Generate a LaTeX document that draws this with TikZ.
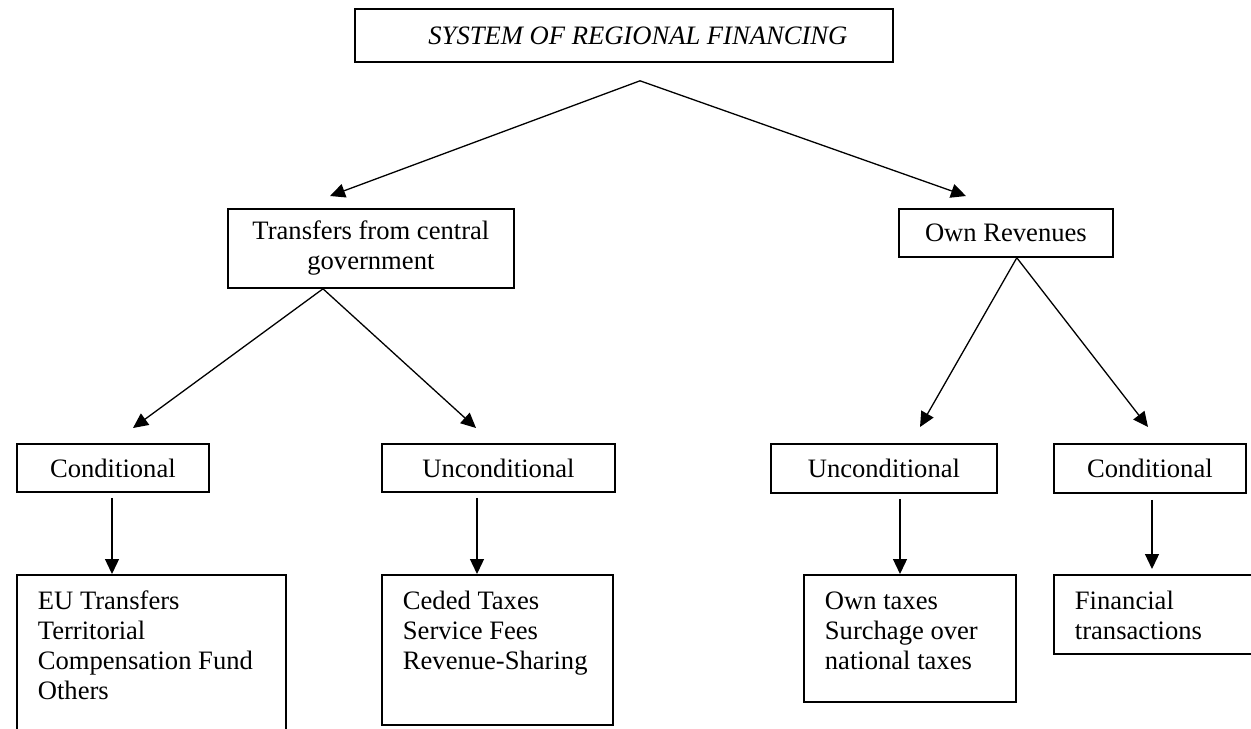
\documentclass[tikz,border=0pt]{standalone}
\usepackage{fontspec}
\setmainfont{Liberation Serif}
\usetikzlibrary{arrows.meta,positioning,calc}
\tikzset{
  box/.style={draw,line width=0.9pt,anchor=north west,inner sep=0pt,
    align=center,font=\fontsize{13.3}{15}\selectfont},
  listbox/.style={draw,line width=0.9pt,anchor=north west,inner xsep=10.5pt,
    inner ysep=7pt,font=\fontsize{13.3}{15}\selectfont},
  arrow/.style={-{Triangle[length=7.5pt,width=7pt]},line width=0.65pt}
}

\begin{document}
\begin{tikzpicture}[x=0.5pt,y=-0.5pt]
  \useasboundingbox (0,0) rectangle (1251,728);
  % top
  \node[box,minimum width=269pt,minimum height=26.5pt,
    font=\fontsize{13.3}{15}\selectfont\itshape] (title) at (354,8) {\hspace*{14pt}SYSTEM OF REGIONAL FINANCING};
  \node[box,minimum width=143pt,minimum height=39.5pt] (trans) at (227,208) {Transfers from central\\government};
  \node[box,minimum width=107pt,minimum height=24pt] (own) at (898,208) {Own Revenues};
  % second level
  \node[box,minimum width=96pt,minimum height=24pt] (condl) at (16,443) {Conditional};
  \node[box,minimum width=116.5pt,minimum height=24pt] (uncl) at (381,443) {Unconditional};
  \node[box,minimum width=113pt,minimum height=24.5pt] (uncr) at (770,443) {Unconditional};
  \node[box,minimum width=96pt,minimum height=24.5pt] (condr) at (1053,443) {Conditional};
  % lists
  \node[listbox] (eu) at (16,574) {\parbox[t][66.5pt][t]{113.5pt}{\strut EU Transfers\\Territorial\\Compensation Fund\\Others}};
  \node[listbox] (ceded) at (381,574) {\parbox[t][61pt][t]{94.5pt}{\strut Ceded Taxes\\Service Fees\\Revenue-Sharing}};
  \node[listbox] (owntax) at (803,574) {\parbox[t][49.5pt][t]{85pt}{\strut Own taxes\\Surchage over\\national taxes}};
  \node[listbox] (fin) at (1053,574) {\parbox[t][25.5pt][t]{78pt}{\strut Financial\\transactions}};
  % arrows
  \coordinate (split) at ($(title.south west)+(286,18)$);
  \draw[arrow] (split) -- ($(trans.north west)+(103,-12)$);
  \draw[arrow] (split) -- ($(own.north west)+(68,-12)$);
  \draw[arrow] ($(trans.south west)+(96,0)$) -- ($(condl.north west)+(117,-15)$);
  \draw[arrow] ($(trans.south west)+(96,0)$) -- ($(uncl.north west)+(95,-15)$);
  \draw[arrow] ($(own.south east)+(-97,0)$) -- ($(uncr.north west)+(150,-16)$);
  \draw[arrow] ($(own.south east)+(-97,0)$) -- ($(condr.north west)+(95,-16)$);
  \draw[arrow] ($(condl.south west)+(96,5)$) -- ($(eu.north west)+(96,0)$);
  \draw[arrow] ($(uncl.south west)+(96,5)$) -- ($(ceded.north west)+(96,0)$);
  \draw[arrow] ($(uncr.south west)+(130,5)$) -- ($(owntax.north west)+(97,0)$);
  \draw[arrow] ($(condr.south west)+(99,6)$) -- ($(fin.north west)+(99,-5)$);
\end{tikzpicture}
\end{document}
